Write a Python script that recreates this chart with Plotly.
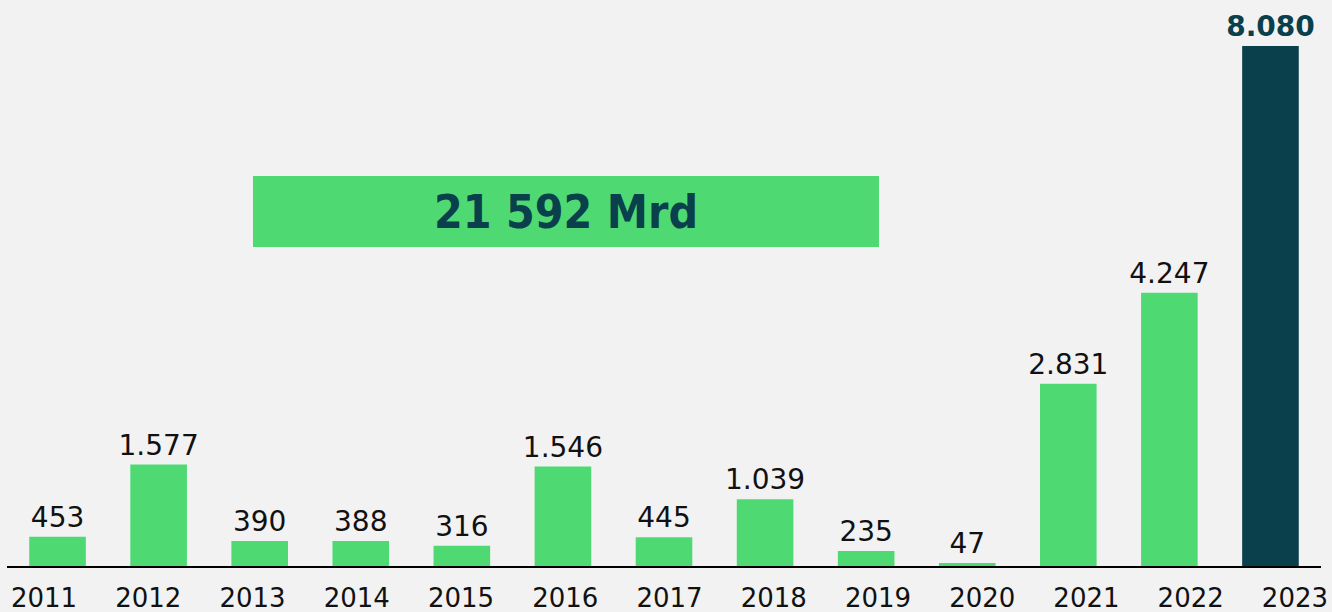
import plotly.graph_objects as go

years = ["2011", "2012", "2013", "2014", "2015", "2016", "2017", "2018", "2019", "2020", "2021", "2022", "2023"]
values = [453, 1577, 390, 388, 316, 1546, 445, 1039, 235, 47, 2831, 4247, 8080]
total_label = "21 592 Mrd"

GREEN = "#4fd973"
DARK = "#09404b"
BG = "#f2f2f2"

labels = [f"{v:,}".replace(",", ".") for v in values]
colors = [GREEN] * (len(values) - 1) + [DARK]
texts = labels[:-1] + [f"<b>{labels[-1]}</b>"]
text_colors = ["#111111"] * (len(values) - 1) + [DARK]

fig = go.Figure()
fig.add_trace(go.Bar(
    x=list(range(len(years))), y=values,
    marker=dict(color=colors, line=dict(width=0)),
    width=0.56,
    text=texts, textposition="outside", cliponaxis=False,
    constraintext="none", textangle=0,
    textfont=dict(family="DejaVu Sans", size=28, color=text_colors),
    hoverinfo="skip",
))
# invisible trace carrying the year tick labels
fig.add_trace(go.Scatter(
    x=years, y=[0] * len(years), xaxis="x2", mode="markers",
    marker=dict(opacity=0), hoverinfo="skip", showlegend=False,
))

fig.update_layout(
    width=1332, height=612,
    paper_bgcolor=BG, plot_bgcolor=BG,
    margin=dict(l=7, r=11, t=0, b=46, autoexpand=False),
    showlegend=False,
    bargap=0.44,
    xaxis=dict(range=[-0.5, 12.5], showticklabels=False, showgrid=False, zeroline=False,
               showline=True, linecolor="#000000", linewidth=2, ticks=""),
    xaxis2=dict(type="category", overlaying="x", side="bottom", anchor="y",
                range=[-0.355, 12.25], showgrid=False, zeroline=False, showline=False,
                ticks="outside", ticklen=9, tickcolor="rgba(0,0,0,0)", automargin=False,
                tickfont=dict(family="DejaVu Sans", size=26, color="#111111")),
    yaxis=dict(range=[0, 8795], visible=False, showgrid=False, zeroline=False),
    shapes=[dict(type="rect", xref="paper", yref="paper", x0=0.1872, x1=0.6636,
                 y0=0.5636, y1=0.689, fillcolor=GREEN, line=dict(width=0), layer="above")],
    annotations=[dict(xref="paper", yref="paper", x=(0.1872 + 0.6636) / 2, y=(0.5636 + 0.689) / 2,
                      text=f"<b>{total_label}</b>", showarrow=False,
                      font=dict(family="DejaVu Sans Condensed", size=46, color=DARK),
                      xanchor="center", yanchor="middle")],
)

fig.write_html("out.html", config={"displayModeBar": False},
               post_script="document.body.style.margin='0';document.body.style.background='#f2f2f2';")
